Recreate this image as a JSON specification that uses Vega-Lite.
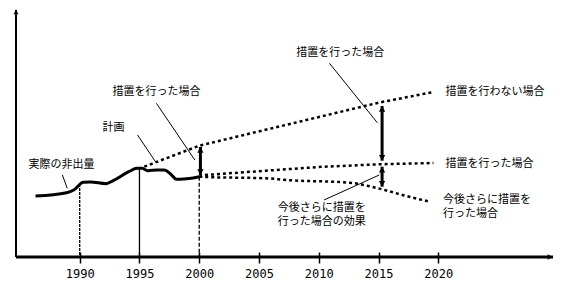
{
  "$schema": "https://vega.github.io/schema/vega-lite/v6.json",
  "width": 537,
  "height": 247,
  "autosize": {"type": "none"},
  "padding": {"left": 16, "top": 10, "right": 15, "bottom": 34},
  "background": "white",
  "config": {"view": {"stroke": null}, "font": "Noto Sans CJK JP"},
  "datasets": {
    "series": [
      {"s": "actual", "year": 1986.3, "v": 61},
      {"s": "actual", "year": 1988.9, "v": 64.3},
      {"s": "actual", "year": 1989.5, "v": 67},
      {"s": "actual", "year": 1990.3, "v": 74.7},
      {"s": "actual", "year": 1990.9, "v": 75},
      {"s": "actual", "year": 1992.2, "v": 73.3},
      {"s": "actual", "year": 1992.8, "v": 76.3},
      {"s": "actual", "year": 1994.1, "v": 85.3},
      {"s": "actual", "year": 1994.8, "v": 88.7},
      {"s": "actual", "year": 1995.2, "v": 88.7},
      {"s": "actual", "year": 1995.7, "v": 86.3},
      {"s": "actual", "year": 1996.5, "v": 87},
      {"s": "actual", "year": 1997.1, "v": 87},
      {"s": "actual", "year": 1997.6, "v": 83},
      {"s": "actual", "year": 1998.1, "v": 77.7},
      {"s": "actual", "year": 1998.7, "v": 78},
      {"s": "actual", "year": 1999.5, "v": 79},
      {"s": "actual", "year": 2000, "v": 80.3},
      {"s": "none", "year": 1995.4, "v": 90.3},
      {"s": "none", "year": 2000, "v": 111.3},
      {"s": "none", "year": 2015, "v": 154.3},
      {"s": "none", "year": 2019.6, "v": 165},
      {"s": "done", "year": 2000, "v": 80.3},
      {"s": "done", "year": 2000.5, "v": 82},
      {"s": "done", "year": 2005.6, "v": 86.3},
      {"s": "done", "year": 2010, "v": 90},
      {"s": "done", "year": 2015, "v": 92.7},
      {"s": "done", "year": 2019.6, "v": 94},
      {"s": "more", "year": 2000, "v": 80.3},
      {"s": "more", "year": 2000.5, "v": 80},
      {"s": "more", "year": 2005.6, "v": 78.7},
      {"s": "more", "year": 2007.3, "v": 77},
      {"s": "more", "year": 2012.6, "v": 74.3},
      {"s": "more", "year": 2014.4, "v": 70.3},
      {"s": "more", "year": 2015.3, "v": 67.7},
      {"s": "more", "year": 2017, "v": 62},
      {"s": "more", "year": 2019.3, "v": 55.3}
    ],
    "vlines": [
      {"k": "a", "year": 1990, "v": 73},
      {"k": "b", "year": 1995, "v": 89},
      {"k": "c", "year": 2000, "v": 80.3}
    ],
    "arrows": [
      {"year": 2000.1, "v": 82, "v2": 110},
      {"year": 2015.3, "v": 96.3, "v2": 151},
      {"year": 2015.3, "v": 70.3, "v2": 90.3}
    ],
    "leaders": [
      {"year": 1988.55, "v": 82, "year2": 1988.96, "v2": 68.7},
      {"year": 1994.84, "v": 122, "year2": 1996.34, "v2": 95.3},
      {"year": 1996.42, "v": 153.7, "year2": 1999.63, "v2": 97},
      {"year": 2010.9, "v": 193.7, "year2": 2014.9, "v2": 134.3},
      {"year": 2010.44, "v": 57, "year2": 2015.06, "v2": 82}
    ],
    "labels_c": [
      {"year": 1988.48, "v": 92, "text": "実際の非出量"},
      {"year": 1992.83, "v": 129, "text": "計画"},
      {"year": 1996.42, "v": 165, "text": "措置を行った場合"},
      {"year": 2011.8, "v": 204.5, "text": "措置を行った場合"}
    ],
    "labels_l": [
      {"year": 2020.6, "v": 165, "text": "措置を行わない場合"},
      {"year": 2020.6, "v": 93, "text": "措置を行った場合"}
    ],
    "labels_m": [
      {"year": 2020.4, "v": 63.5, "text": "今後さらに措置を\n行った場合"},
      {"year": 2006.58, "v": 55.5, "text": "今後さらに措置を\n行った場合の効果"}
    ],
    "xaxisline": [{"year": 1984.67, "year2": 2029.6, "v": 0}],
    "yaxisline": [{"year": 1984.67, "v": 0, "v2": 247}],
    "xhead": [{"year": 2029.6, "v": 0}],
    "yhead": [{"year": 1984.67, "v": 247}]
  },
  "encoding": {
    "x": {
      "field": "year", "type": "quantitative",
      "scale": {"domain": [1984.67, 2029.6], "nice": false, "zero": false},
      "axis": {
        "values": [1990, 1995, 2000, 2005, 2010, 2015, 2020],
        "format": "d", "domain": false, "offset": -5, "tickSize": 11,
        "tickWidth": 1.5, "tickColor": "black", "labelFont": "DejaVu Sans Mono",
        "labelFontSize": 12, "labelColor": "black", "labelPadding": 5,
        "grid": false, "title": null, "labelFlush": false
      }
    },
    "y": {
      "field": "v", "type": "quantitative",
      "scale": {"domain": [0, 247], "nice": false, "zero": false},
      "axis": null
    }
  },
  "layer": [
    {
      "data": {"name": "xaxisline"},
      "mark": {"type": "rule", "color": "black", "strokeWidth": 3},
      "encoding": {"x2": {"field": "year2"}}
    },
    {
      "data": {"name": "yaxisline"},
      "mark": {"type": "rule", "color": "black", "strokeWidth": 2},
      "encoding": {"y2": {"field": "v2"}}
    },
    {
      "data": {"name": "xhead"},
      "mark": {"type": "point", "shape": "triangle-right", "filled": true, "color": "black", "size": 30, "xOffset": -3, "opacity": 1}
    },
    {
      "data": {"name": "yhead"},
      "mark": {"type": "point", "shape": "triangle-up", "filled": true, "color": "black", "size": 25, "yOffset": 2, "opacity": 1}
    },
    {
      "data": {"name": "vlines"},
      "mark": {"type": "rule", "color": "black", "strokeWidth": 1.3},
      "encoding": {
        "y2": {"datum": 0},
        "strokeDash": {"field": "k", "type": "nominal", "scale": {"domain": ["a", "b", "c"], "range": [[3, 1], [1, 0], [4, 2]]}, "legend": null}
      }
    },
    {
      "data": {"name": "series"},
      "transform": [{"filter": "datum.s === 'actual'"}],
      "mark": {"type": "line", "color": "black", "strokeWidth": 3, "interpolate": "monotone"}
    },
    {
      "data": {"name": "series"},
      "transform": [{"filter": "datum.s === 'none' || datum.s === 'done'"}],
      "mark": {"type": "line", "color": "black", "strokeWidth": 2.5, "strokeDash": [3, 3], "interpolate": "linear"},
      "encoding": {"detail": {"field": "s"}}
    },
    {
      "data": {"name": "series"},
      "transform": [{"filter": "datum.s === 'more'"}],
      "mark": {"type": "line", "color": "black", "strokeWidth": 2.5, "strokeDash": [3, 3], "interpolate": "monotone"}
    },
    {
      "data": {"name": "leaders"},
      "mark": {"type": "rule", "color": "black", "strokeWidth": 1},
      "encoding": {"x2": {"field": "year2"}, "y2": {"field": "v2"}}
    },
    {
      "data": {"name": "arrows"},
      "mark": {"type": "rule", "color": "black", "strokeWidth": 3},
      "encoding": {"y2": {"field": "v2"}}
    },
    {
      "data": {"name": "arrows"},
      "mark": {"type": "point", "shape": "triangle-down", "filled": true, "color": "black", "size": 40, "yOffset": -3, "opacity": 1}
    },
    {
      "data": {"name": "arrows"},
      "mark": {"type": "point", "shape": "triangle-up", "filled": true, "color": "black", "size": 40, "yOffset": 3, "opacity": 1},
      "encoding": {
        "y": {"field": "v2", "type": "quantitative", "scale": {"domain": [0, 247], "nice": false, "zero": false}, "axis": null}
      }
    },
    {
      "data": {"name": "labels_c"},
      "mark": {"type": "text", "font": "Noto Sans CJK JP", "fontSize": 11, "color": "black", "align": "center", "baseline": "middle"},
      "encoding": {"text": {"field": "text"}}
    },
    {
      "data": {"name": "labels_l"},
      "mark": {"type": "text", "font": "Noto Sans CJK JP", "fontSize": 11, "color": "black", "align": "left", "baseline": "middle"},
      "encoding": {"text": {"field": "text"}}
    },
    {
      "data": {"name": "labels_m"},
      "mark": {"type": "text", "font": "Noto Sans CJK JP", "fontSize": 11, "color": "black", "align": "left", "baseline": "top", "lineBreak": "\n", "lineHeight": 14},
      "encoding": {"text": {"field": "text"}}
    }
  ]
}
